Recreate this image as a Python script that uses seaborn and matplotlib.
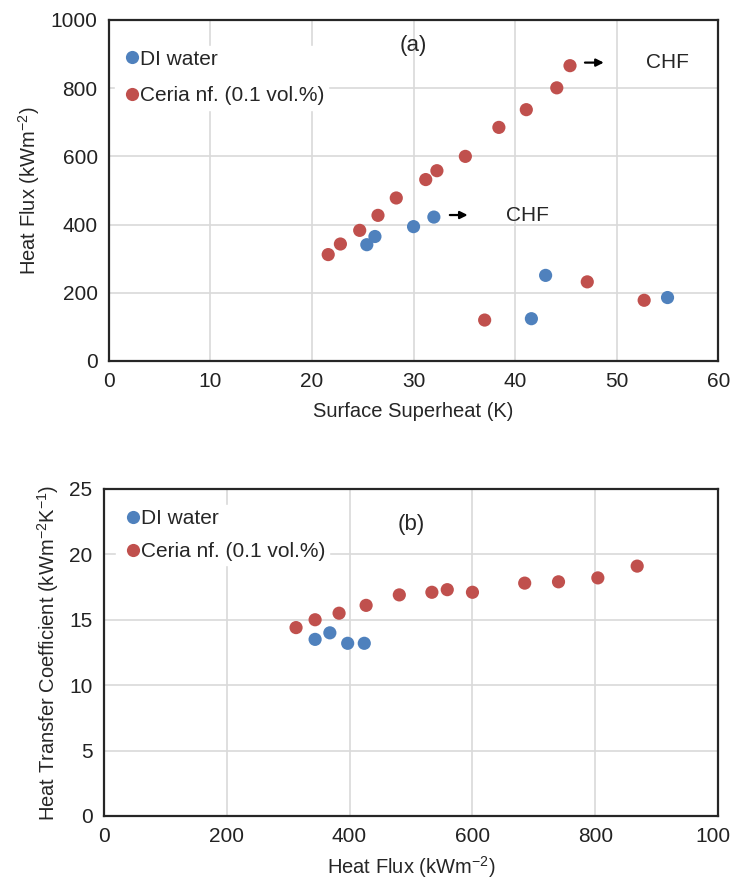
import pandas as pd
import seaborn as sns
import matplotlib.pyplot as plt

# (a) boiling curve: surface superheat (K) vs heat flux (kW/m2)
di_superheat = [25.4, 26.2, 30.0, 32.0, 43.0, 41.6, 55.0]
di_flux = [341, 365, 394, 422, 251, 124, 186]
ceria_superheat = [21.6, 22.8, 24.7, 26.5, 28.3, 31.2, 32.3, 35.1, 38.4, 41.1,
                   44.1, 45.4, 37.0, 47.1, 52.7]
ceria_flux = [312, 343, 383, 427, 478, 532, 558, 600, 685, 737,
              801, 866, 120, 232, 178]

# (b) heat transfer coefficient vs heat flux
di_q = [344, 368, 397, 424]
di_htc = [13.5, 14.0, 13.2, 13.2]
ceria_q = [313, 344, 383, 427, 481, 534, 559, 600, 685, 740, 804, 868]
ceria_htc = [14.4, 15.0, 15.5, 16.1, 16.9, 17.1, 17.3, 17.1, 17.8, 17.9, 18.2, 19.1]

labels = ['DI water', 'Ceria nf. (0.1 vol.%)']
palette = {labels[0]: '#4F81BD', labels[1]: '#C0504D'}

df_a = pd.DataFrame({
    'dT': di_superheat + ceria_superheat,
    'q': di_flux + ceria_flux,
    'fluid': [labels[0]] * len(di_flux) + [labels[1]] * len(ceria_flux)})
df_b = pd.DataFrame({
    'q': di_q + ceria_q,
    'h': di_htc + ceria_htc,
    'fluid': [labels[0]] * len(di_q) + [labels[1]] * len(ceria_q)})

sns.set_style('white')
plt.rcParams['font.family'] = ['Liberation Sans', 'DejaVu Sans']
plt.rcParams['mathtext.fontset'] = 'custom'
plt.rcParams['mathtext.rm'] = 'Liberation Sans'
plt.rcParams['mathtext.it'] = 'Liberation Sans'

fig = plt.figure(figsize=(7.3, 8.88), dpi=100)
ax1 = fig.add_axes([0.149, 0.5935, 0.835, 0.384])
ax2 = fig.add_axes([0.142, 0.0811, 0.842, 0.3683])

fs = 15


def style(ax, anchor, spacing):
    ax.grid(True, color='#D9D9D9', linewidth=1.2)
    ax.set_axisbelow(True)
    for s in ax.spines.values():
        s.set_visible(True)
        s.set_color('#262626')
        s.set_linewidth(1.6)
    ax.tick_params(axis='both', length=0, labelsize=fs, colors='#222222', pad=8)
    ax.legend(loc='upper left', bbox_to_anchor=anchor, frameon=True,
              framealpha=1, edgecolor='white', fontsize=fs,
              labelspacing=spacing, handletextpad=-0.2, handlelength=1.2,
              borderpad=0.2, borderaxespad=0.0, markerscale=1.0)


sns.scatterplot(data=df_a, x='dT', y='q', hue='fluid', palette=palette,
                s=90, edgecolor='none', ax=ax1, zorder=3)
ax1.set_xlim(0, 60)
ax1.set_ylim(0, 1000)
ax1.set_xticks(range(0, 61, 10))
ax1.set_yticks(range(0, 1001, 200))
ax1.set_xlabel('Surface Superheat (K)', fontsize=fs - 0.5, labelpad=8)
ax1.set_ylabel(r'Heat Flux (kWm$^{-2}$)', fontsize=fs - 0.5, labelpad=6)
style(ax1, (0.01, 0.925), 0.85)
ax1.text(30, 925, '(a)', fontsize=fs + 1, ha='center', va='center')
ax1.annotate('', xy=(35.6, 428), xytext=(33.3, 428),
             arrowprops=dict(arrowstyle='-|>', color='black', lw=1.6, mutation_scale=11))
ax1.text(41.2, 428, 'CHF', fontsize=fs, va='center', ha='center')
ax1.annotate('', xy=(49.0, 875), xytext=(46.6, 875),
             arrowprops=dict(arrowstyle='-|>', color='black', lw=1.6, mutation_scale=11))
ax1.text(55.0, 875, 'CHF', fontsize=fs, va='center', ha='center')

sns.scatterplot(data=df_b, x='q', y='h', hue='fluid', palette=palette,
                s=90, edgecolor='none', ax=ax2, zorder=3)
ax2.set_xlim(0, 1000)
ax2.set_ylim(0, 25)
ax2.set_xticks(range(0, 1001, 200))
ax2.set_yticks(range(0, 26, 5))
ax2.set_xlabel(r'Heat Flux (kWm$^{-2}$)', fontsize=fs - 0.5, labelpad=6)
ax2.set_ylabel(r'Heat Transfer Coefficient (kWm$^{-2}$K$^{-1}$)', fontsize=fs - 0.5, labelpad=6)
style(ax2, (0.02, 0.95), 0.65)
ax2.text(500, 22.3, '(b)', fontsize=fs + 1, ha='center', va='center')

fig.savefig('out.png', dpi=100)
